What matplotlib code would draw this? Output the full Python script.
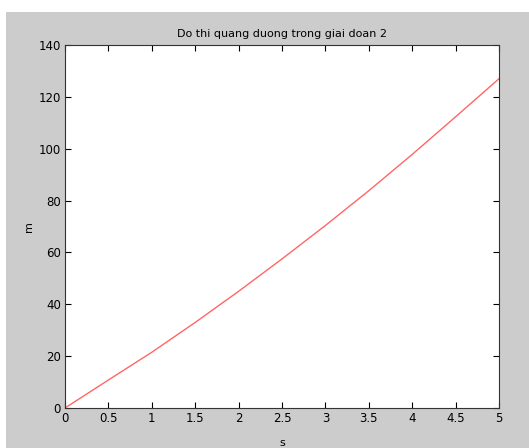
import matplotlib
matplotlib.use("Agg")
import matplotlib.pyplot as plt
from matplotlib.patches import Rectangle

# time (s) and distance (m)
t = [0, 0.5, 1, 1.5, 2, 2.5, 3, 3.5, 4, 4.5, 5]
s = [0, 10.8, 21.5, 33.0, 45.0, 57.5, 70.4, 83.8, 97.8, 112.3, 127.0]
xticks = [0, 0.5, 1, 1.5, 2, 2.5, 3, 3.5, 4, 4.5, 5]
yticks = [0, 20, 40, 60, 80, 100, 120, 140]

W, H = 529, 448
fig = plt.figure(figsize=(W / 100, H / 100), dpi=100, facecolor="white")
# grey matlab-style window background
fig.patches.append(Rectangle((6 / W, 0), 1, (H - 12) / H, transform=fig.transFigure,
                             facecolor="#cccccc", edgecolor="none", zorder=-1))

ax = fig.add_axes([65 / W, (H - 408) / H, (499 - 65) / W, (408 - 45) / H])
ax.plot(t, s, color="#ff6666", lw=1.0)

ax.set_xlim(0, 5)
ax.set_ylim(0, 140)
ax.set_xticks(xticks)
ax.set_xticklabels(["0", "0.5", "1", "1.5", "2", "2.5", "3", "3.5", "4", "4.5", "5"])
ax.set_yticks(yticks)
ax.tick_params(direction="in", length=4, width=0.8, labelsize=8.5, top=True, right=True,
               colors="black", pad=3)
for sp in ax.spines.values():
    sp.set_linewidth(0.8)
    sp.set_color("#333333")

ax.set_title("Do thi quang duong trong giai doan 2", fontsize=8, pad=6)
ax.set_xlabel("s", fontsize=8, labelpad=9)
ax.set_ylabel("m", fontsize=8, labelpad=3)

fig.savefig("out.png", dpi=100, facecolor=fig.get_facecolor())
